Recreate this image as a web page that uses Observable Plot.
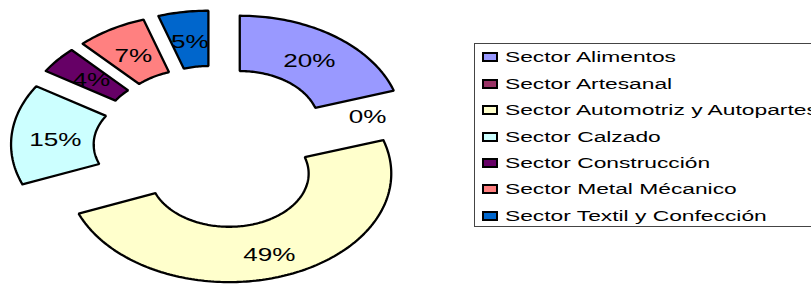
<!DOCTYPE html>
<html><head><meta charset="utf-8">
<script src="https://cdn.jsdelivr.net/npm/d3@7"></script>
<script src="https://cdn.jsdelivr.net/npm/@observablehq/plot@0.6"></script>
<style>
html,body{margin:0;padding:0;background:#fff;}
#wrap{position:relative;width:811px;height:290px;overflow:hidden;font-family:"Liberation Sans",Arial,sans-serif;}
#chart{position:absolute;left:0;top:0;}
#legend{position:absolute;left:474px;top:43px;width:400px;height:184px;border:1px solid #444;box-sizing:border-box;background:#fff;}
.sw{position:absolute;left:7px;width:12px;height:6px;border:2px solid #000;}
.lab{position:absolute;left:30px;font-size:15.5px;line-height:18px;white-space:nowrap;transform:scaleX(1.47);transform-origin:left center;color:#000;}
</style></head>
<body>
<div id="wrap"><div id="chart"></div><div id="legend"></div></div>
<script>
const sectors = ["Sector Alimentos","Sector Artesanal","Sector Automotriz y Autopartes","Sector Calzado","Sector Construcción","Sector Metal Mécanico","Sector Textil y Confección"];
const shares = [20, 0, 49, 15, 4, 7, 5];
const pctLabels = ["20%","0%","49%","15%","4%","7%","5%"];
const colors = ["#9999FF","#993366","#FFFFCC","#CCFFFF","#660066","#FF8080","#0066CC"];

const INNER = 0.49, EXPLODE = 0.26, LABEL_RX = 0.73, LABEL_RY = 0.76;
const total = d3.sum(shares);
let acc = 0;
const slices = sectors.map((s, i) => {
  const a0 = acc / total * 2 * Math.PI; acc += shares[i];
  const a1 = acc / total * 2 * Math.PI;
  const mid = (a0 + a1) / 2;
  const ox = EXPLODE * Math.sin(mid), oy = EXPLODE * Math.cos(mid);
  return {sector: s, value: shares[i], label: pctLabels[i], a0, a1, mid, ox, oy,
          lx: ox + LABEL_RX * Math.sin(mid), ly: oy + LABEL_RY * Math.cos(mid)};
});

const outline = [];
slices.filter(d => d.value > 0).forEach(d => {
  const n = Math.max(8, Math.ceil((d.a1 - d.a0) / 0.02));
  const pts = [];
  for (let k = 0; k <= n; k++) { const t = d.a0 + (d.a1 - d.a0) * k / n; pts.push([d.ox + Math.sin(t), d.oy + Math.cos(t)]); }
  for (let k = n; k >= 0; k--) { const t = d.a0 + (d.a1 - d.a0) * k / n; pts.push([d.ox + INNER * Math.sin(t), d.oy + INNER * Math.cos(t)]); }
  pts.push(pts[0]);
  pts.forEach(p => outline.push({sector: d.sector, x: p[0], y: p[1]}));
});

const plot = Plot.plot({
  width: 811, height: 290, margin: 0,
  style: {background: "transparent"},
  x: {domain: [-1.324, 3.682], axis: null},
  y: {domain: [-1.322, 1.351], axis: null},
  color: {domain: sectors, range: colors},
  marks: [
    Plot.line(outline, {x: "x", y: "y", z: "sector", fill: "sector", stroke: "#000", strokeWidth: 2.3, strokeLinejoin: "miter", curve: "linear"}),
    Plot.text(slices, {x: "lx", y: "ly", dy: 4, text: "label", fontSize: 18, fill: "#000", fontFamily: "Liberation Sans, Arial, sans-serif"})
  ]
});
const xs = plot.scale("x"), ys = plot.scale("y");
const textNodes = plot.querySelectorAll('g[aria-label="text"] text');
textNodes.forEach((node, i) => {
  const d = slices[i];
  if (!d) return;
  node.removeAttribute("x");
  node.setAttribute("transform", `translate(${xs.apply(d.lx)},${ys.apply(d.ly)}) scale(1.45,1)`);
});
document.getElementById("chart").appendChild(plot);

const colorScale = plot.scale("color");
const leg = document.getElementById("legend");
sectors.forEach((s, i) => {
  const cy = 13.3 + i * 26.4;
  const sw = document.createElement("div");
  sw.className = "sw";
  sw.style.top = (cy - 5) + "px";
  sw.style.background = colorScale.apply(s);
  leg.appendChild(sw);
  const lb = document.createElement("div");
  lb.className = "lab";
  lb.style.top = (cy - 9) + "px";
  lb.textContent = s;
  leg.appendChild(lb);
});
</script>
</body></html>
